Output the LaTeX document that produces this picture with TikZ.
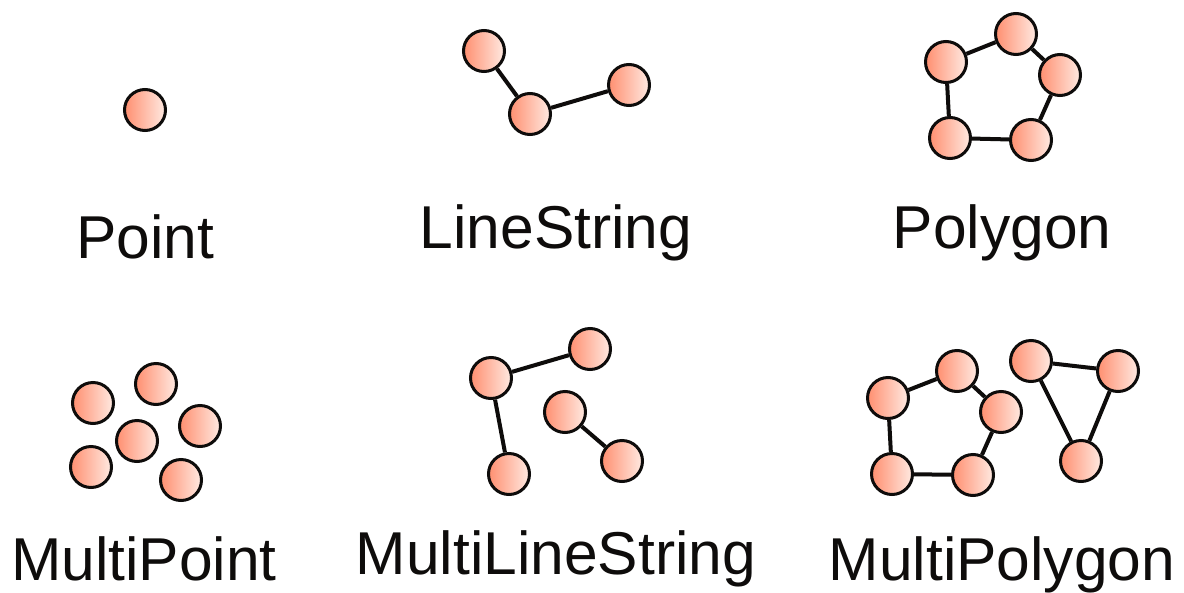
\documentclass[tikz,border=0pt]{standalone}
\usepackage{fontspec}
\setmainfont{Liberation Sans}
\definecolor{dotL}{HTML}{FF8F70}
\definecolor{dotR}{HTML}{FFEAE2}
\definecolor{ink}{HTML}{0E0C0B}
\tikzset{
  dot/.style={circle,draw=ink,line width=3pt,minimum size=41pt,inner sep=0pt,left color=dotL,right color=dotR},
  link/.style={draw=ink,line width=4pt},
  lab/.style={text=ink,font=\fontsize{60.5}{64}\selectfont,inner sep=0pt,anchor=base}
}
\begin{document}
\begin{tikzpicture}[x=1pt,y=-1pt]
\useasboundingbox (0,0) rectangle (1184,592);
\fill[white] (0,0) rectangle (1184,592);
% Point
\node[dot] (p1) at (145,110) {};
% LineString
\node[dot] (l1) at (484,51) {};
\node[dot] (l2) at (530,114) {};
\node[dot] (l3) at (629,85) {};
% Polygon
\node[dot] (g1) at (946,62) {};
\node[dot] (g2) at (1016,34) {};
\node[dot] (g3) at (1060,75) {};
\node[dot] (g4) at (1031,140) {};
\node[dot] (g5) at (950,138) {};
% MultiPoint
\node[dot] (m1) at (93,403) {};
\node[dot] (m2) at (156,384) {};
\node[dot] (m3) at (200,426) {};
\node[dot] (m4) at (137,441) {};
\node[dot] (m5) at (91,467) {};
\node[dot] (m6) at (181,480) {};
% MultiLineString
\node[dot] (s1) at (491,378) {};
\node[dot] (s2) at (590,349) {};
\node[dot] (s3) at (509,474) {};
\node[dot] (s4) at (565,412) {};
\node[dot] (s5) at (622,461) {};
% MultiPolygon
\node[dot] (a1) at (888,398) {};
\node[dot] (a2) at (957,371) {};
\node[dot] (a3) at (1001,412) {};
\node[dot] (a4) at (973,475) {};
\node[dot] (a5) at (892,474) {};
\node[dot] (b1) at (1031,361) {};
\node[dot] (b2) at (1118,371) {};
\node[dot] (b3) at (1081,461) {};
% connectors
\draw[link] (l1) -- (l2);
\draw[link] (l2) -- (l3);
\draw[link] (g1) -- (g2);
\draw[link] (g2) -- (g3);
\draw[link] (g3) -- (g4);
\draw[link] (g4) -- (g5);
\draw[link] (g5) -- (g1);
\draw[link] (s1) -- (s2);
\draw[link] (s1) -- (s3);
\draw[link] (s4) -- (s5);
\draw[link] (a1) -- (a2);
\draw[link] (a2) -- (a3);
\draw[link] (a3) -- (a4);
\draw[link] (a4) -- (a5);
\draw[link] (a5) -- (a1);
\draw[link] (b1) -- (b2);
\draw[link] (b2) -- (b3);
\draw[link] (b3) -- (b1);
% labels
\node[lab] (tp) at (145,258) {Point};
\node[lab] (tl) at (556,248) {LineString};
\node[lab] (tg) at (1002,248) {Polygon};
\node[lab] (tm) at (144,580) {MultiPoint};
\node[lab] (ts) at (556,574) {MultiLineString};
\node[lab] (ta) at (1002,580) {MultiPolygon};
\end{tikzpicture}
\end{document}
